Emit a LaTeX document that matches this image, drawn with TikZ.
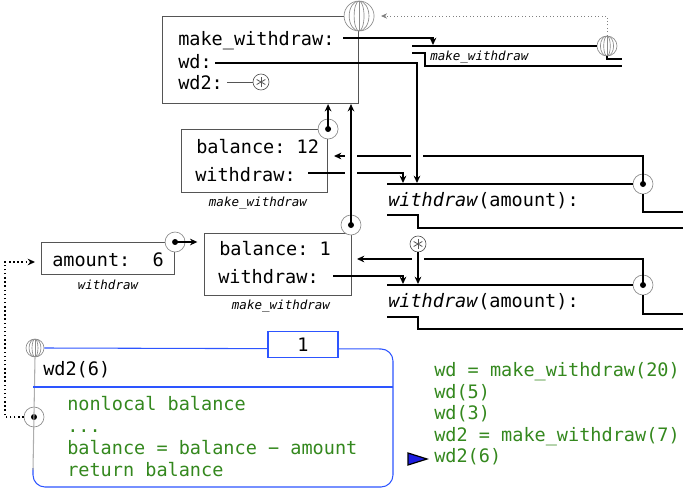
\documentclass[tikz,border=0pt]{standalone}
\usepackage{fontspec}
\setmainfont{DejaVu Sans Mono}
\usetikzlibrary{arrows.meta}
\definecolor{codegreen}{RGB}{52,136,30}
\definecolor{runblue}{RGB}{45,85,255}
\definecolor{tipblue}{RGB}{30,30,225}
\definecolor{ringgray}{RGB}{140,140,140}
\definecolor{edgegray}{RGB}{85,85,85}
\begin{document}
\frenchspacing
\begin{tikzpicture}[x=0.75pt,y=-0.75pt,
  every node/.style={inner sep=0pt,font=\fontsize{13.9}{16}\selectfont},
  txt/.style={anchor=base west},
  lbl/.style={anchor=base,font=\fontsize{9.4}{11}\selectfont\itshape},
  code/.style={anchor=base west,text=codegreen},
  box/.style 2 args={draw=edgegray,line width=0.8pt,anchor=north west,minimum width=#1*0.75pt,minimum height=#2*0.75pt},
  ring/.style={circle,draw=ringgray,fill=white,line width=0.5pt,minimum size=#1*1.5pt},
  ptrring/.style={ring=10,path picture={\fill[black] (path picture bounding box.center) circle [radius=3];}},
  starring/.style={ring=8,draw=edgegray,path picture={\foreach \a in {90,30,150} \draw[edgegray,line width=0.6pt] ([shift={(\a:5)}]path picture bounding box.center) -- ([shift={(\a+180:5)}]path picture bounding box.center);}},
  globe/.style={ring=#1,path picture={\draw[ringgray,line width=0.5pt] (path picture bounding box.north) -- (path picture bounding box.south); \foreach \f in {0.33,0.66} \draw[ringgray,line width=0.5pt] (path picture bounding box.center) ellipse [x radius=\f*#1,y radius=#1];}},
  link/.style={line width=1.1pt},
  ptr/.style={line width=1.1pt,-{Stealth[length=5.5pt,width=5pt]}},
  dotptr/.style={line width=1.1pt,dotted,-{Stealth[length=5.5pt,width=5pt]}},
  parentref/.style={gray,line width=0.6pt,dotted,-{Stealth[length=4.5pt,width=4pt]}},
  hop/.style={draw=white,line width=9pt},
  tallybox/.style={draw=runblue,fill=white,line width=0.8pt,minimum width=52.5pt,minimum height=20pt}]
\useasboundingbox (0,0) rectangle (683,490);
\node[box={196}{87}] (glob) at (162,16) {};
\node[box={146}{63}] (bal12) at (181,129) {};
\node[box={147}{62}] (bal1) at (204,233) {};
\node[box={133}{32}] (amt) at (41,242) {};
\node[globe=15] (gball) at (glob.north east) {};
\node[ptrring] (p12) at (bal12.north east) {};\node[ptrring] (p1) at (351,225) {};\node[ptrring] (pamt) at (amt.north east) {};
\node[ptrring] (pfa) at (643,184) {};\node[ptrring] (pfb) at (643,285) {};
\node[globe=10] (mball) at (607,46) {};\node[globe=9] (xball) at (35,348) {};
\node[ptrring] (xptr) at (34,417) {};
\node[starring] (stara) at (261,82) {};\node[starring] (starb) at (418,244) {};
\node[txt] (tmw) at (178,45) {make\_withdraw:};
\node[txt] (twd) at (178,68) {wd:};
\node[txt] (twd2) at (178,89) {wd2:};
\node[txt] (tbal12) at (196,153) {balance: 12};\node[txt] (tw12) at (195,181) {withdraw:};
\node[lbl] (lbl12) at (258,206) {make\_withdraw};
\node[txt] (tbal1) at (219,255) {balance: 1};\node[txt] (tw1) at (218,283) {withdraw:};
\node[lbl] (lbl1) at (281,309) {make\_withdraw};
\node[txt] (tamt) at (52,266) {amount:~~6};
\node[lbl] (lblamt) at (108,289) {withdraw};
\draw[link] (412,46) -- (mball.west);\draw[link] (mball.south) |- (622,59);\draw[link] (412,53) -| (425,66) -- (622,66);
\node[lbl,anchor=base west] (mwname) at (430,60) {make\_withdraw};
\draw[link] (387,184) -- (pfa.west);\draw[link] (pfa.south) |- (683,212);\draw[link] (387,215) -| (418,228) -- (683,228);
\node[txt] (fnatext) at (388,206) {\textit{withdraw}(amount):};
\draw[link] (387,285) -- (pfb.west);\draw[link] (pfb.south) |- (683,314);\draw[link] (387,317) -| (418,329) -- (683,329);
\node[txt] (fnbtext) at (388,307) {\textit{withdraw}(amount):};
\draw[runblue,line width=0.8pt,rounded corners=9pt] (xball.east) -- (393,349) -- (393,487) -- (33,487) -- (33,468);
\draw[ringgray!70,line width=0.8pt] (xball.south) -- (33,470);
\draw[runblue,line width=0.8pt] (33,387) -- (393,387);
\node[tallybox] (tally) at (303,344.5) {1};
\node[txt] (callname) at (43,375) {wd2(6)};
\node[code] (body1) at (67,410) {nonlocal balance};
\node[code] (body2) at (67,432) {...};
\node[code] (body3) at (67,454) {balance = balance − amount};
\node[code] (body4) at (67,476) {return balance};
\node[code] (cmd1) at (434,376) {wd = make\_withdraw(20)};
\node[code] (cmd2) at (434,398) {wd(5)};
\node[code] (cmd3) at (434,419) {wd(3)};
\node[code] (cmd4) at (434,441) {wd2 = make\_withdraw(7)};
\node[code] (cmd5) at (434,462) {wd2(6)};
\draw[fill=tipblue,line width=0.9pt] (408,453) -- (408,465) -- (427,459) -- cycle;
\coordinate (mwout) at (343,38);\coordinate (mwin) at (433,45);
\coordinate (wdout) at (215,63);\coordinate (fnain2) at (417,183);
\coordinate (wd2out) at (227,82);
\coordinate (w12out) at (308,173);\coordinate (fnain1) at (403,183);
\coordinate (w1out) at (333,276);\coordinate (fnbin1) at (403,284);\coordinate (fnbin2) at (418,284);
\coordinate (bal12in) at (334,156);\coordinate (bal1in) at (357,259);
\coordinate (dotbend) at (5,262);
\draw[ptr] (mwout) -| (mwin);
\draw[edgegray,line width=0.7pt] (wd2out) -- (stara);
\draw[parentref,shorten >=5pt] (mball.north) |- (gball.east);
\draw[ptr] (pfa.center) |- (bal12in);
\draw[ptr] (pfb.center) |- (bal1in);
\draw[ptr] (w12out) -| (fnain1);
\draw[ptr] (w1out) -| (fnbin1);
\draw[hop] (p1.center |- bal12.north) -- (p1.center |- bal12.south);
\draw[hop] (fnain2 |- bal12.north) -- (fnain2 |- bal12.east);
\draw[hop] (starb.south) -- (starb.south |- bal1.east);
\draw[ptr] (p12.center) -- (p12.center |- glob.south);
\draw[ptr] (p1.center) -- (p1.center |- glob.south);
\draw[ptr] (wdout) -| (fnain2);
\draw[ptr] (starb.south) -- (fnbin2);
\draw[ptr,shorten >=5pt] (pamt.center) -- (pamt.center -| bal1.west);
\draw[dotptr,shorten >=4.5pt] (xptr.west) -| (dotbend) -- (dotbend -| amt.west);
\end{tikzpicture}
\end{document}
